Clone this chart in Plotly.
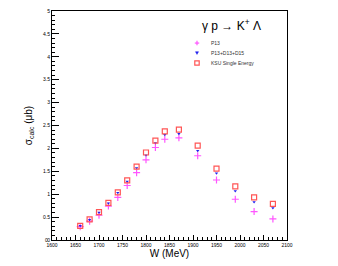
import plotly.graph_objects as go

W = [1660, 1680, 1700, 1720, 1740, 1760, 1780, 1800, 1820, 1840, 1870, 1910, 1950, 1990, 2030, 2070]
ksu = [0.31, 0.45, 0.61, 0.81, 1.04, 1.30, 1.60, 1.91, 2.17, 2.37, 2.41, 2.06, 1.56, 1.17, 0.93, 0.79]
p13_d13_d15 = [0.31, 0.44, 0.60, 0.80, 1.03, 1.28, 1.57, 1.85, 2.12, 2.30, 2.32, 1.95, 1.46, 1.07, 0.83, 0.70]
p13 = [0.29, 0.41, 0.54, 0.74, 0.93, 1.19, 1.47, 1.75, 2.02, 2.20, 2.23, 1.84, 1.31, 0.89, 0.62, 0.46]
legend_names = ["P13", "P13+D13+D15", "KSU Single Energy"]

FONT = "Liberation Sans, Arial, sans-serif"
C_P13 = "#ff55ff"
C_FULL = "#2222ee"
C_KSU = "#ff5555"

fig = go.Figure()
fig.add_trace(go.Scatter(
    x=W, y=p13, mode="markers", name=legend_names[0], showlegend=False,
    marker=dict(symbol="cross-thin-open", size=5, color=C_P13,
                line=dict(color=C_P13, width=1.2))))
fig.add_trace(go.Scatter(
    x=W, y=p13_d13_d15, mode="markers", name=legend_names[1], showlegend=False,
    marker=dict(symbol="triangle-down", size=3, color=C_FULL)))
fig.add_trace(go.Scatter(
    x=W, y=ksu, mode="markers", name=legend_names[2], showlegend=False,
    marker=dict(symbol="square-open", size=5, color=C_KSU,
                line=dict(color=C_KSU, width=1.2))))

# manual compact legend (paper coordinates)
PW, PH = 235.0, 229.0
mx = 0.617
tx = 0.668
rows = [0.860, 0.817, 0.773]
dx = 2.2 / PW
dy = 2.2 / PH
shapes = [
    dict(type="line", xref="paper", yref="paper", x0=mx - dx, x1=mx + dx, y0=rows[0], y1=rows[0],
         line=dict(color=C_P13, width=1.2)),
    dict(type="line", xref="paper", yref="paper", x0=mx, x1=mx, y0=rows[0] - dy, y1=rows[0] + dy,
         line=dict(color=C_P13, width=1.2)),
    dict(type="path", xref="paper", yref="paper",
         path=f"M {mx - 1.5/PW} {rows[1] + 1.2/PH} L {mx + 1.5/PW} {rows[1] + 1.2/PH} L {mx} {rows[1] - 1.5/PH} Z",
         fillcolor=C_FULL, line=dict(color=C_FULL, width=0.5)),
    dict(type="rect", xref="paper", yref="paper", x0=mx - dx, x1=mx + dx, y0=rows[2] - dy, y1=rows[2] + dy,
         line=dict(color=C_KSU, width=1.2)),
]
annotations = [
    dict(text=name, x=tx, y=yy, xref="paper", yref="paper", xanchor="left", yanchor="middle",
         showarrow=False, font=dict(size=5, family=FONT, color="#333333"))
    for name, yy in zip(legend_names, rows)
]
annotations.append(
    dict(text="γ p → K<sup>+</sup> Λ", x=0.765, y=0.94, xref="paper", yref="paper",
         xanchor="center", yanchor="middle", showarrow=False,
         font=dict(size=12, family=FONT)))
# y-axis "0" label at the corner (plotly drops it there)
annotations.append(
    dict(text="0", x=0, y=0, xref="paper", yref="y", xanchor="right", yanchor="middle",
         xshift=-2, showarrow=False, font=dict(size=5, family=FONT)))

fig.update_layout(
    width=338, height=266, autosize=False,
    margin=dict(l=44, r=59, t=3, b=34, autoexpand=False),
    paper_bgcolor="white", plot_bgcolor="white",
    font=dict(family=FONT, color="black"),
    showlegend=False,
    shapes=shapes,
    annotations=annotations,
)

fig.update_xaxes(
    range=[1600, 2100], dtick=50, tick0=1600, automargin=False,
    showline=True, linecolor="black", linewidth=1, mirror=True,
    ticks="inside", ticklen=5, tickcolor="black", ticklabeloverflow="allow",
    minor=dict(dtick=10, ticklen=3, ticks="inside", tickcolor="black"),
    showgrid=False, zeroline=False,
    tickfont=dict(size=5, family=FONT),
    title=dict(text="W (MeV)", font=dict(size=10, family=FONT), standoff=0),
)
fig.update_yaxes(
    range=[0, 5], dtick=0.5, tick0=0, automargin=False,
    showline=True, linecolor="black", linewidth=1, mirror=True,
    ticks="inside", ticklen=7, tickcolor="black", ticklabeloverflow="allow",
    minor=dict(dtick=0.1, ticklen=3, ticks="inside", tickcolor="black"),
    showgrid=False, zeroline=False,
    tickfont=dict(size=5, family=FONT),
    title=dict(text="σ<sub>calc</sub> (μb)", font=dict(size=10, family=FONT), standoff=8),
)

fig.write_html("out.html", config={"responsive": False})
